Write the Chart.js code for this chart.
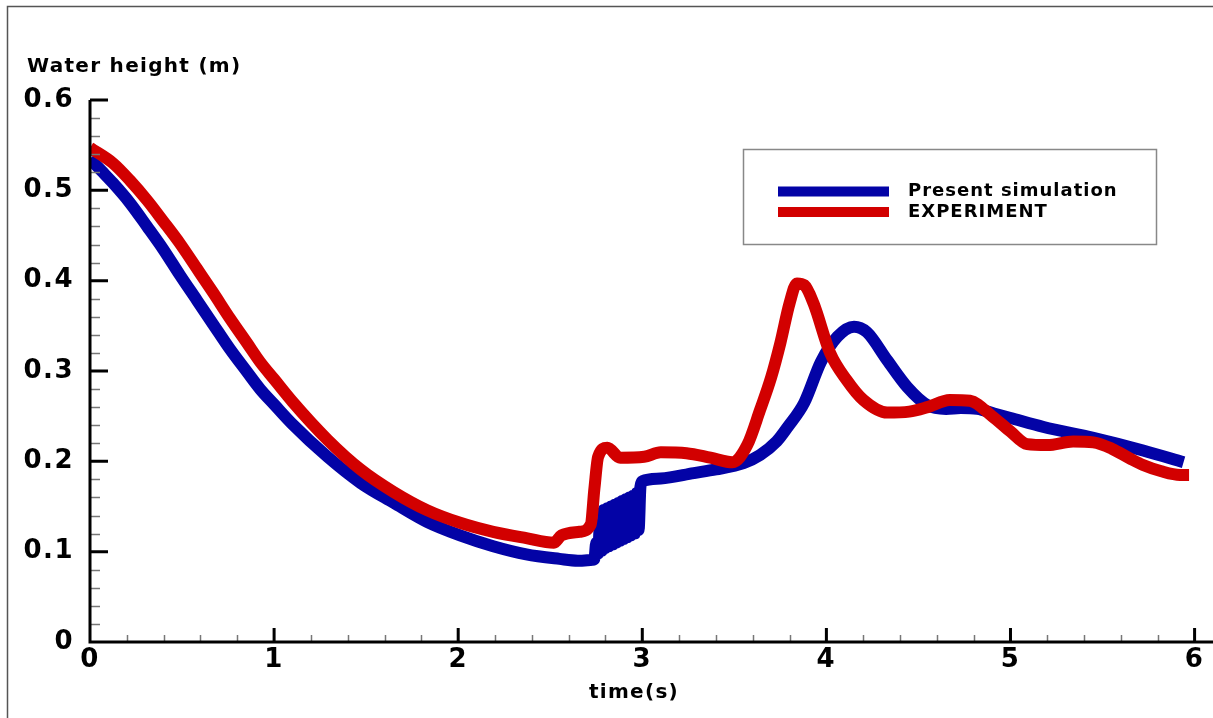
<!DOCTYPE html>
<html>
<head>
<meta charset="utf-8">
<script src="https://cdn.jsdelivr.net/npm/chart.js@4/dist/chart.umd.min.js"></script>
<style>
  html, body { margin: 0; padding: 0; background: #fff; }
  #wrap { width: 1213px; height: 718px; }
</style>
</head>
<body>
<div id="wrap"><canvas id="c" width="1213" height="718"></canvas></div>
<script>
// ---- Data ----
const simTime = [0, 0.06, 0.125, 0.217, 0.31, 0.397, 0.489, 0.582, 0.668, 0.761, 0.853, 0.924, 1.0,
  1.10, 1.29, 1.47, 1.65, 1.83, 2.01, 2.19, 2.37, 2.55, 2.65, 2.73,
  2.74, 2.75, 2.76, 2.77, 2.78, 2.79, 2.80, 2.81, 2.82, 2.83, 2.84, 2.85, 2.86, 2.87, 2.88, 2.89,
  2.90, 2.91, 2.92, 2.93, 2.94, 2.95, 2.96, 2.97, 2.98, 2.99, 3.0,
  3.1, 3.28, 3.4, 3.55, 3.64, 3.73, 3.79, 3.88, 3.97, 4.06, 4.15, 4.22, 4.33, 4.44,
  4.55, 4.65, 4.73, 4.82, 4.91, 5.0, 5.18, 5.45, 5.72, 5.94];
const simHeight = [0.535, 0.522, 0.508, 0.486, 0.460, 0.435, 0.406, 0.378, 0.352, 0.324, 0.299, 0.280, 0.263,
  0.241, 0.205, 0.176, 0.154, 0.133, 0.118, 0.106, 0.097, 0.092, 0.090, 0.091,
  0.092, 0.110, 0.098, 0.130, 0.101, 0.146, 0.104, 0.148, 0.106, 0.150, 0.108, 0.152, 0.110, 0.154, 0.112, 0.156,
  0.114, 0.158, 0.116, 0.160, 0.118, 0.162, 0.120, 0.165, 0.124, 0.172, 0.178,
  0.181, 0.187, 0.191, 0.198, 0.207, 0.222, 0.238, 0.265, 0.310, 0.338, 0.349, 0.343, 0.312, 0.282,
  0.262, 0.258, 0.259, 0.258, 0.253, 0.248, 0.238, 0.226, 0.212, 0.199];

const expTime = [0, 0.016, 0.125, 0.217, 0.31, 0.397, 0.489, 0.582, 0.668, 0.761, 0.853, 0.924, 1.0,
  1.10, 1.29, 1.47, 1.65, 1.83, 2.01, 2.19, 2.37, 2.52, 2.56, 2.66, 2.72, 2.74, 2.76, 2.81, 2.88,
  3.01, 3.10, 3.24, 3.37, 3.49, 3.57, 3.64, 3.70, 3.75, 3.80, 3.84, 3.88, 3.93, 4.02, 4.11, 4.20,
  4.33, 4.45, 4.55, 4.67, 4.78, 4.90, 5.0, 5.09, 5.2, 5.34, 5.45, 5.55, 5.65, 5.72, 5.82, 5.92, 5.97];
const expHeight = [0.547, 0.545, 0.530, 0.511, 0.489, 0.466, 0.441, 0.413, 0.387, 0.358, 0.331, 0.310, 0.291,
  0.266, 0.224, 0.191, 0.166, 0.146, 0.132, 0.122, 0.115, 0.110, 0.118, 0.122, 0.130, 0.170, 0.205, 0.215, 0.204,
  0.205, 0.210, 0.209, 0.204, 0.199, 0.218, 0.257, 0.293, 0.331, 0.375, 0.397, 0.395, 0.375, 0.320, 0.290, 0.268,
  0.254, 0.255, 0.260, 0.268, 0.267, 0.250, 0.233, 0.219, 0.218, 0.222, 0.221, 0.214, 0.203, 0.196, 0.189, 0.185, 0.185];

const seriesNames = ['Present simulation', 'EXPERIMENT'];
const xTickValues = [0, 1, 2, 3, 4, 5, 6];
const yTickValues = [0, 0.1, 0.2, 0.3, 0.4, 0.5, 0.6];
const xMinorStep = 0.2;
const yMinorStep = 0.02;
const xAxisTitle = 'time(s)';
const yAxisTitle = 'Water height (m)';

const BLUE = '#0303a6';
const RED = '#d20000';
const FONT = '"DejaVu Sans", "Liberation Sans", Arial, sans-serif';

function toPoints(ts, hs) { return ts.map((t, i) => ({ x: t, y: hs[i] })); }

const decor = {
  id: 'decor',
  beforeDraw(chart) {
    const ctx = chart.ctx;
    ctx.save();
    ctx.fillStyle = '#fff';
    ctx.fillRect(0, 0, chart.width, chart.height);
    ctx.strokeStyle = '#555';
    ctx.lineWidth = 1.5;
    ctx.beginPath();
    ctx.moveTo(7.5, chart.height);
    ctx.lineTo(7.5, 6.5);
    ctx.lineTo(chart.width, 6.5);
    ctx.stroke();
    ctx.restore();
    ctx.letterSpacing = '1.5px';
  },
  afterDraw(chart) {
    const ctx = chart.ctx;
    const xs = chart.scales.x, ys = chart.scales.y;
    const x0 = xs.getPixelForValue(0);
    const y0 = ys.getPixelForValue(0);
    const yTop = ys.getPixelForValue(yTickValues[yTickValues.length - 1]);
    ctx.save();
    // minor ticks
    ctx.strokeStyle = '#777';
    ctx.lineWidth = 1.5;
    ctx.beginPath();
    const xMax = xTickValues[xTickValues.length - 1];
    for (let k = 1; k * xMinorStep < xMax + 1e-9; k++) {
      const v = k * xMinorStep;
      if (Math.abs(v - Math.round(v)) < 1e-6) continue;
      const px = Math.round(xs.getPixelForValue(v)) + 0.5;
      ctx.moveTo(px, y0); ctx.lineTo(px, y0 - 7);
    }
    const yMax = yTickValues[yTickValues.length - 1];
    for (let k = 1; k * yMinorStep < yMax - 1e-9; k++) {
      const v = k * yMinorStep;
      if (Math.abs(v * 10 - Math.round(v * 10)) < 1e-6) continue;
      const py = Math.round(ys.getPixelForValue(v)) + 0.5;
      ctx.moveTo(x0, py); ctx.lineTo(x0 + 10, py);
    }
    ctx.stroke();
    // major ticks
    ctx.strokeStyle = '#000';
    ctx.lineWidth = 3;
    ctx.beginPath();
    xTickValues.forEach(v => {
      if (v === 0) return;
      const px = xs.getPixelForValue(v);
      ctx.moveTo(px, y0); ctx.lineTo(px, y0 - 14);
    });
    yTickValues.forEach(v => {
      if (v === 0) return;
      const py = ys.getPixelForValue(v);
      ctx.moveTo(x0, py); ctx.lineTo(x0 + 18, py);
    });
    ctx.stroke();
    // axis lines
    ctx.beginPath();
    ctx.moveTo(x0, yTop);
    ctx.lineTo(x0, y0);
    ctx.lineTo(chart.width, y0);
    ctx.stroke();

    // titles
    ctx.fillStyle = '#000';
    ctx.font = 'bold 20px ' + FONT;
    ctx.letterSpacing = '1.3px';
    ctx.textBaseline = 'alphabetic';
    ctx.textAlign = 'left';
    ctx.fillText(yAxisTitle, 27, 72);
    ctx.textAlign = 'center';
    ctx.fillText(xAxisTitle, 634, 698);

    // legend
    ctx.strokeStyle = '#888';
    ctx.lineWidth = 1.5;
    ctx.strokeRect(743.5, 149.5, 413, 95);
    const rows = [191.5, 212];
    chart.data.datasets.forEach((ds, i) => {
      ctx.strokeStyle = ds.borderColor;
      ctx.lineWidth = 10;
      ctx.lineCap = 'butt';
      ctx.beginPath();
      ctx.moveTo(778, rows[i]);
      ctx.lineTo(889, rows[i]);
      ctx.stroke();
      ctx.fillStyle = '#000';
      ctx.font = 'bold 18px ' + FONT;
      ctx.letterSpacing = '1px';
      ctx.textAlign = 'left';
      ctx.textBaseline = 'middle';
      ctx.fillText(ds.label, 908, rows[i]);
    });
    ctx.restore();
  }
};

new Chart(document.getElementById('c'), {
  type: 'line',
  data: {
    datasets: [
      {
        label: seriesNames[0],
        data: toPoints(simTime, simHeight),
        borderColor: BLUE,
        backgroundColor: BLUE,
        borderWidth: 12,
        pointRadius: 0,
        cubicInterpolationMode: 'monotone',
        order: 2
      },
      {
        label: seriesNames[1],
        data: toPoints(expTime, expHeight),
        borderColor: RED,
        backgroundColor: RED,
        borderWidth: 12,
        pointRadius: 0,
        cubicInterpolationMode: 'monotone',
        order: 1
      }
    ]
  },
  options: {
    responsive: false,
    animation: false,
    layout: { padding: { left: 0, top: 100, right: 0, bottom: 0 } },
    plugins: { legend: { display: false }, title: { display: false }, tooltip: { enabled: false } },
    scales: {
      x: {
        type: 'linear',
        min: 0,
        max: 6.1,
        afterBuildTicks: s => { s.ticks = xTickValues.map(v => ({ value: v })); },
        afterFit: s => { s.height = 76; },
        grid: { display: false, drawTicks: false },
        border: { display: false },
        ticks: {
          color: '#000',
          padding: 3,
          maxRotation: 0,
          font: { family: FONT, weight: 'bold', size: 26 },
          callback: v => String(v)
        }
      },
      y: {
        type: 'linear',
        min: 0,
        max: 0.6,
        afterBuildTicks: s => { s.ticks = yTickValues.map(v => ({ value: v })); },
        afterFit: s => { s.width = 90; },
        grid: { display: false, drawTicks: false },
        border: { display: false },
        ticks: {
          color: '#000',
          padding: 16,
          font: { family: FONT, weight: 'bold', size: 26 },
          callback: v => (v === 0 ? '0' : Number(v).toFixed(1))
        }
      }
    }
  },
  plugins: [decor]
});
</script>
</body>
</html>
